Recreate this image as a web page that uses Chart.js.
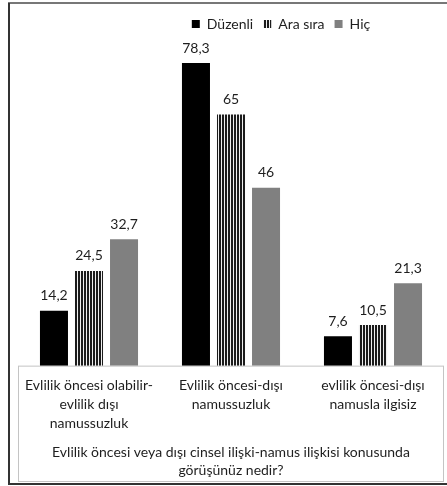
<!DOCTYPE html>
<html>
<head>
<meta charset="utf-8">
<script src="https://cdn.jsdelivr.net/npm/chart.js@4.4.0/dist/chart.umd.min.js"></script>
<style>
  html, body { margin: 0; padding: 0; background: #fff; }
  .wrap { position: relative; width: 447px; height: 486px; }
</style>
</head>
<body>
<div class="wrap"><canvas id="myChart" width="447" height="486"></canvas></div>
<script>
// data
const categories = [
   ['Evlilik öncesi olabilir-', 'evlilik dışı', 'namussuzluk'],
   ['Evlilik öncesi-dışı', 'namussuzluk'],
   ['evlilik öncesi-dışı', 'namusla ilgisiz']
];
const seriesNames = ['Düzenli', 'Ara sıra', 'Hiç'];
const duzenli = [14.2, 78.3, 7.6];
const araSira = [24.5, 65, 10.5];
const hic = [32.7, 46, 21.3];
const axisTitle = ['Evlilik öncesi veya dışı cinsel ilişki-namus ilişkisi konusunda', 'görüşünüz nedir?'];

const fontFamily = 'Lato, "Liberation Sans", sans-serif';
const textColor = '#1e1e1e';

// vertical stripes for "Ara sıra"
function stripes() {
   let c = document.createElement('canvas');
   c.width = 3;
   c.height = 4;
   let x = c.getContext('2d');
   x.fillStyle = '#f0f0f0';
   x.fillRect(0, 0, 3, 4);
   x.fillStyle = '#1c1c1c';
   x.fillRect(0, 0, 2, 4);
   return x.createPattern(c, 'repeat');
}

// frame + axis box
const frame = {
   id: 'frame',
   beforeDraw(chart) {
      let ctx = chart.ctx;
      let a = chart.chartArea;
      ctx.save();
      ctx.fillStyle = '#fff';
      ctx.fillRect(0, 0, chart.width, chart.height);
      ctx.lineWidth = 2;
      ctx.strokeStyle = '#777';
      ctx.beginPath();
      ctx.moveTo(8, 3);
      ctx.lineTo(chart.width, 3);
      ctx.stroke();
      ctx.strokeStyle = '#333';
      ctx.beginPath();
      ctx.moveTo(9, 3);
      ctx.lineTo(9, 484);
      ctx.lineTo(chart.width, 484);
      ctx.stroke();
      ctx.lineWidth = 1;
      ctx.strokeStyle = '#c4c4c4';
      ctx.strokeRect(a.left + 0.5, a.bottom + 0.5, a.right - a.left - 1, 481 - a.bottom);
      ctx.restore();
   }
};

// move the legend a bit to the right like in the picture
const legendShift = {
   id: 'legendShift',
   afterLayout(chart) {
      chart.legend.left += 50;
      chart.legend.right += 50;
   }
};

// value labels above bars
const valueLabels = {
   id: 'valueLabels',
   afterDatasetsDraw(chart) {
      let ctx = chart.ctx;
      ctx.save();
      ctx.font = '14px ' + fontFamily;
      ctx.fillStyle = textColor;
      ctx.textAlign = 'center';
      ctx.textBaseline = 'middle';
      chart.data.datasets.forEach((ds, i) => {
         chart.getDatasetMeta(i).data.forEach((bar, j) => {
            let txt = String(ds.data[j]).replace('.', ',');
            ctx.fillText(txt, bar.x, bar.y - 15);
         });
      });
      ctx.restore();
   }
};

const ctx = document.getElementById('myChart').getContext('2d');
const chart = new Chart(ctx, {
   type: 'bar',
   data: {
      labels: categories,
      datasets: [
         { label: seriesNames[0], data: duzenli, backgroundColor: '#000000' },
         { label: seriesNames[1], data: araSira, backgroundColor: stripes() },
         { label: seriesNames[2], data: hic, backgroundColor: '#808080' }
      ]
   },
   options: {
      responsive: false,
      animation: false,
      datasets: {
         bar: { categoryPercentage: 0.74, barPercentage: 0.8 }
      },
      layout: {
         padding: { top: 7, left: 18, right: 3, bottom: 4 }
      },
      plugins: {
         legend: {
            position: 'top',
            labels: {
               boxWidth: 8,
               boxHeight: 8,
               padding: 10,
               color: textColor,
               font: { family: fontFamily, size: 14 }
            }
         },
         tooltip: { enabled: false }
      },
      scales: {
         x: {
            grid: { display: false, drawTicks: false },
            border: { display: false },
            ticks: {
               color: textColor,
               padding: 10,
               maxRotation: 0,
               autoSkip: false,
               font: { family: fontFamily, size: 14, lineHeight: 1.38 }
            },
            title: {
               display: true,
               text: axisTitle,
               color: textColor,
               padding: { top: 0, bottom: 2 },
               font: { family: fontFamily, size: 14, lineHeight: 1.3 }
            }
         },
         y: {
            display: false,
            min: 0,
            max: 84
         }
      }
   },
   plugins: [frame, legendShift, valueLabels]
});
</script>
</body>
</html>
